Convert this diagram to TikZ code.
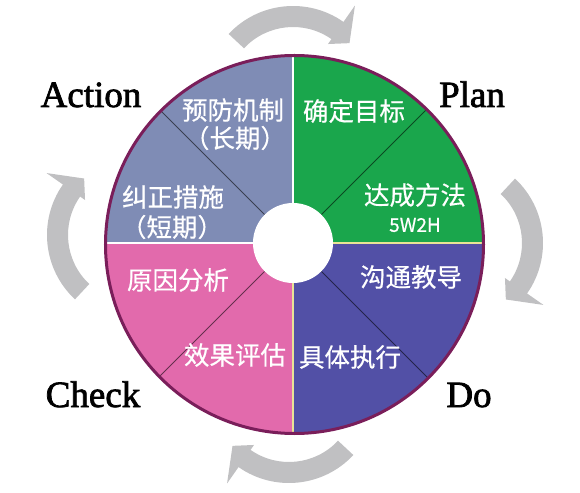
\documentclass[tikz,border=0pt]{standalone}
\usepackage{fontspec}
\setmainfont{Liberation Serif}
\newfontfamily\labfont{Liberation Serif}[FakeBold=2]
\newfontfamily\cjk{Noto Sans CJK SC}[FakeBold=0.5]
\definecolor{actc}{RGB}{127,140,181}
\definecolor{planc}{RGB}{26,166,76}
\definecolor{doc}{RGB}{82,80,166}
\definecolor{chkc}{RGB}{226,106,172}
\definecolor{rimc}{RGB}{122,30,90}
\definecolor{arrc}{RGB}{192,192,194}
\definecolor{yelc}{RGB}{232,228,150}
\begin{document}
\begin{tikzpicture}[x=1pt,y=1pt,
  cn/.style={font=\cjk\fontsize{25.5}{28}\selectfont, text=white, inner sep=0pt},
  small/.style={font=\cjk\fontsize{19}{21}\selectfont, text=white, inner sep=0pt},
  lab/.style={font=\labfont\fontsize{37}{40}\selectfont, inner sep=0pt, anchor=base},
  diag/.style={draw=black, draw opacity=0.55, line width=0.8pt},
  wdiv/.style={draw=white, line width=2pt},
  ydiv/.style={draw=yelc, line width=1.5pt}]
\useasboundingbox (-293,-249) rectangle (287,243);
\coordinate (O) at (0,0);
% cycle arrows
\foreach \r/\dx/\dy in {0/0/1, -90/14/0, 180/-4/-4, 90/-10/8} {
  \fill[arrc, shift={(\dx,\dy)}, rotate=\r, shift={(0,148)}]
    (137:88) arc[start angle=137,end angle=55,radius=88]
    -- (55:108) -- (42:76) -- (55:61) -- (55:67)
    arc[start angle=55,end angle=137,radius=67] -- cycle;
}
% wheel
\begin{scope}
  \clip (1.5,-1.5) circle[radius=189];
  \fill[actc] (0,0) rectangle (-200,200);
  \fill[planc] (0,0) rectangle (200,200);
  \fill[doc] (0,0) rectangle (200,-200);
  \fill[chkc] (0,0) rectangle (-200,-200);
  \foreach \a in {45,135,225,315} \draw[diag] (\a:40) -- (\a:200);
  \draw[wdiv] (0,40) -- (0,200);
  \draw[wdiv] (-40,0) -- (-200,0);
  \draw[ydiv] (40,0) -- (200,0);
  \draw[ydiv] (0,-40) -- (0,-200);
\end{scope}
\draw[rimc, line width=3pt] (1.5,-1.5) circle[radius=189];
\fill[white] (O) circle[radius=40];
% texts
\node[cn] (a1) at (-60,133) {预防机制};
\node[cn] (a2) at (-58,105) {（长期）};
\node[cn] (a3) at (-120,46) {纠正措施};
\node[cn] (a4) at (-121,16) {（短期）};
\node[cn] (p1) at (61,132) {确定目标};
\node[cn] (p2) at (122,48) {达成方法};
\node[small] (p3) at (122,18) {5W2H};
\node[cn] (d1) at (118,-34) {沟通教导};
\node[cn] (d2) at (57,-114) {具体执行};
\node[cn] (c1) at (-115,-37) {原因分析};
\node[cn] (c2) at (-58,-112) {效果评估};
\node[lab] (act) at (-202,136) {Action};
\node[lab] (pln) at (179,136) {Plan};
\node[lab] (chk) at (-200,-164) {Check};
\node[lab] (dol) at (176,-164) {Do};
\end{tikzpicture}
\end{document}
